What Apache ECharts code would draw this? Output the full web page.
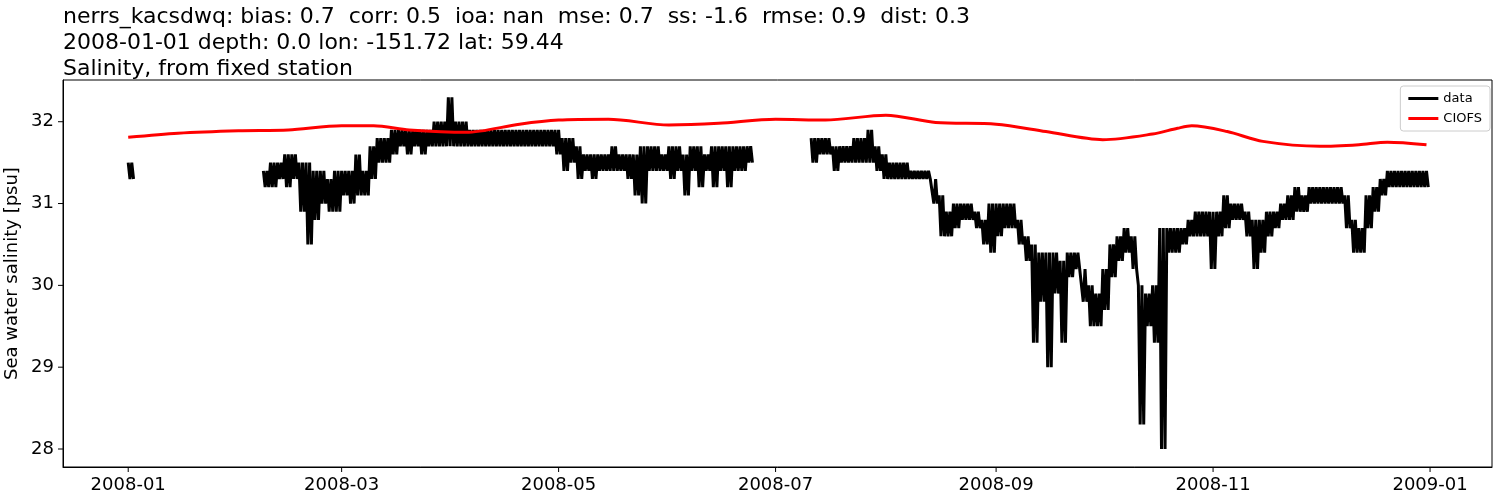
<!DOCTYPE html>
<html><head><meta charset="utf-8">
<script src="https://cdn.jsdelivr.net/npm/echarts@6/dist/echarts.min.js"></script>
<style>html,body{margin:0;padding:0;background:#fff}#c{width:1500px;height:500px}</style>
</head><body><div id="c"></div>
<script>
const titleLines = [
  "nerrs_kacsdwq: bias: 0.7  corr: 0.5  ioa: nan  mse: 0.7  ss: -1.6  rmse: 0.9  dist: 0.3",
  "2008-01-01 depth: 0.0 lon: -151.72 lat: 59.44",
  "Salinity, from fixed station"
];
const yTicks = [28, 29, 30, 31, 32];
const xTicks = ["2008-01-01","2008-03-01","2008-05-01","2008-07-01","2008-09-01","2008-11-01","2009-01-01"];
// observation segments: start date, step 2 days, high / low of the band
const segStarts = ["2008-01-01", "2008-02-08", "2008-07-11"];
const segHigh = [
  [31.5],
  [31.4,31.5,31.5,31.6,31.6,31.5,31.5,31.4,31.4,31.3,31.4,
   31.4,31.4,31.6,31.4,31.7,31.8,31.8,31.9,31.9,31.9,31.9,31.9,31.9,32.0,32.0,32.3,
   32.0,32.0,31.9,31.9,31.9,31.9,31.9,31.9,31.9,31.9,31.9,31.9,31.9,31.9,31.9,
   31.8,31.8,31.7,31.6,31.6,31.6,31.6,31.7,31.6,31.6,31.6,31.7,31.7,31.7,31.6,
   31.7,31.7,31.6,31.7,31.7,31.6,31.7,31.7,31.7,31.7,31.7,31.7],
  [31.8,31.8,31.8,31.7,31.7,31.7,31.8,31.8,31.9,31.7,31.6,
   31.5,31.5,31.5,31.4,31.4,31.4,31.3,31.1,30.9,31.0,31.0,31.0,30.9,30.8,31.0,
   31.0,31.0,31.0,30.8,30.6,30.5,30.4,30.4,30.4,30.3,30.4,30.4,30.2,30.0,29.9,
   30.2,30.5,30.6,30.7,30.6,30.0,29.9,30.0,30.7,30.7,30.7,30.7,30.8,30.9,30.9,30.9,
   30.9,31.1,31.0,31.0,30.9,30.8,30.8,30.9,30.9,31.0,31.1,31.2,31.1,31.2,31.2,
   31.2,31.2,31.2,31.1,30.8,30.7,31.1,31.2,31.3,31.4,31.4,31.4,31.4,31.4,31.4]
];
const segLow = [
  [31.3],
  [31.2,31.2,31.3,31.2,31.3,30.9,30.5,30.8,31.0,30.9,30.9,
   31.1,31.0,31.1,31.1,31.3,31.5,31.5,31.6,31.7,31.6,31.7,31.6,31.7,31.7,31.7,31.7,
   31.7,31.7,31.7,31.7,31.7,31.7,31.7,31.7,31.7,31.7,31.7,31.7,31.7,31.7,31.6,
   31.4,31.5,31.3,31.4,31.3,31.4,31.4,31.4,31.4,31.3,31.1,31.0,31.4,31.4,31.4,
   31.3,31.4,31.1,31.4,31.2,31.4,31.2,31.4,31.2,31.4,31.4,31.5],
  [31.5,31.6,31.6,31.4,31.5,31.5,31.5,31.5,31.5,31.4,31.3,
   31.3,31.3,31.3,31.3,31.3,31.3,31.0,30.6,30.6,30.7,30.8,30.8,30.7,30.5,30.4,
   30.6,30.7,30.7,30.5,30.3,29.3,29.8,29.0,29.9,29.3,30.1,30.2,29.8,29.5,29.5,
   29.7,30.1,30.3,30.4,30.2,28.3,29.5,29.3,28.0,30.4,30.4,30.5,30.6,30.6,30.6,30.2,
   30.6,30.7,30.8,30.8,30.6,30.2,30.4,30.6,30.7,30.8,30.8,30.9,30.9,31.0,31.0,
   31.0,31.0,31.0,30.7,30.4,30.4,30.7,30.9,31.1,31.2,31.2,31.2,31.2,31.2,31.2]
];
const modelDates = ["2008-01-01","2008-01-15","2008-02-01","2008-02-15","2008-03-01","2008-03-10","2008-03-20","2008-04-05","2008-04-20","2008-05-01","2008-05-15","2008-06-01","2008-06-15","2008-07-01","2008-07-15","2008-08-01","2008-08-15","2008-09-01","2008-09-15","2008-10-01","2008-10-15","2008-10-22","2008-10-26","2008-11-05","2008-11-15","2008-12-01","2008-12-12","2008-12-20","2008-12-31"];
const modelVals = [31.81,31.86,31.89,31.9,31.95,31.95,31.9,31.87,31.97,32.02,32.03,31.96,31.98,32.03,32.02,32.08,31.99,31.97,31.88,31.78,31.85,31.92,31.95,31.88,31.76,31.70,31.72,31.75,31.72];

const DAY = 86400000;
const T = s => Date.parse(s + "T00:00:00Z");
const obs = [];
segStarts.forEach((s, i) => {
  const t0 = T(s);
  segHigh[i].forEach((h, k) => {
    const t = t0 + k * 2 * DAY;
    obs.push([t, h]);
    obs.push([t + 0.5 * DAY, segLow[i][k]]);
    obs.push([t + 1.0 * DAY, h]);
    obs.push([t + 1.5 * DAY, segLow[i][k]]);
  });
  obs.push([t0 + segHigh[i].length * 2 * DAY, null]);
});
const model = modelDates.map((d, i) => [T(d), modelVals[i]]);
const XMIN = Date.parse("2007-12-13T16:00:00Z"), XMAX = Date.parse("2009-01-18T10:00:00Z");
const YMIN = 27.78, YMAX = 32.51;

const chart = echarts.init(document.getElementById('c'));
const F = "DejaVu Sans";
chart.setOption({
  animation: false,
  title: { text: titleLines.join("\n"), left: 58, top: -1,
    textStyle: { fontFamily: F, fontSize: 22, fontWeight: 'normal', color: '#000', lineHeight: 26 } },
  grid: { left: 63, right: 8, top: 80, bottom: 33, containLabel: false, outerBoundsMode: 'none' },
  legend: { right: 10, top: 86, orient: 'vertical', itemGap: 7,
    icon: 'rect', itemWidth: 30, itemHeight: 3,
    borderColor: '#ccc', borderWidth: 1, borderRadius: 3, padding: [6, 8],
    textStyle: { fontFamily: F, fontSize: 13, color: '#000' },
    data: ['data', 'CIOFS'] },
  xAxis: { type: 'value', min: XMIN, max: XMAX,
    axisLine: { onZero: false, lineStyle: { color: '#000' } },
    axisTick: { show: false }, splitLine: { show: false }, axisLabel: { show: false } },
  yAxis: { type: 'value', min: YMIN, max: YMAX,
    name: 'Sea water salinity [psu]', nameLocation: 'middle', nameGap: 42,
    nameTextStyle: { fontFamily: F, fontSize: 18, color: '#000' },
    axisLine: { show: true, lineStyle: { color: '#000' } },
    axisTick: { show: false }, splitLine: { show: false }, axisLabel: { show: false } },
  series: [
    { name: 'data', type: 'line', data: obs, showSymbol: false, connectNulls: false,
      lineStyle: { color: '#000', width: 3 }, itemStyle: { color: '#000' } },
    { name: 'CIOFS', type: 'line', data: model, showSymbol: false, smooth: 0.3,
      lineStyle: { color: '#f00', width: 3 }, itemStyle: { color: '#f00' } }
  ]
});
const g = [];
xTicks.forEach(d => {
  const p = chart.convertToPixel({ gridIndex: 0 }, [T(d), YMIN]);
  g.push({ type: 'line', shape: { x1: p[0], y1: p[1], x2: p[0], y2: p[1] + 5 }, style: { stroke: '#000', lineWidth: 1 } });
  g.push({ type: 'text', x: p[0], y: p[1] + 9, style: { text: d.slice(0, 7), font: '18px ' + F, fill: '#000', align: 'center', verticalAlign: 'top' } });
});
yTicks.forEach(v => {
  const p = chart.convertToPixel({ gridIndex: 0 }, [XMIN, v]);
  g.push({ type: 'line', shape: { x1: p[0] - 5, y1: p[1], x2: p[0], y2: p[1] }, style: { stroke: '#000', lineWidth: 1 } });
  g.push({ type: 'text', x: p[0] - 9, y: p[1], style: { text: String(v), font: '18px ' + F, fill: '#000', align: 'right', verticalAlign: 'middle' } });
});
const tr = chart.convertToPixel({ gridIndex: 0 }, [XMAX, YMAX]);
const bl = chart.convertToPixel({ gridIndex: 0 }, [XMIN, YMIN]);
g.push({ type: 'rect', shape: { x: bl[0], y: tr[1], width: tr[0] - bl[0], height: bl[1] - tr[1] }, style: { fill: 'none', stroke: '#000', lineWidth: 1 } });
chart.setOption({ graphic: g });
</script></body></html>
